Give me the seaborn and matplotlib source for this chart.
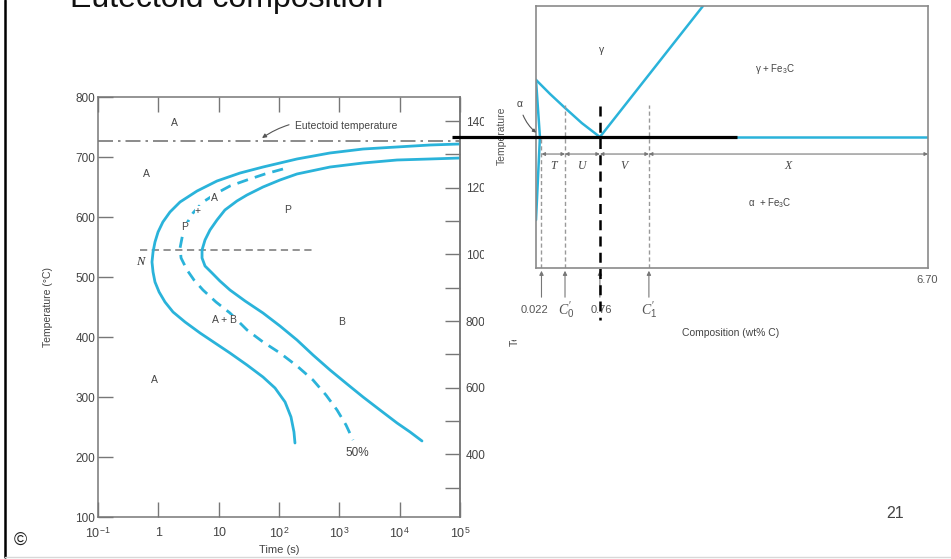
import numpy as np
import pandas as pd
import matplotlib
matplotlib.use("Agg")
import matplotlib.pyplot as plt
import seaborn as sns

sns.set_theme(style="white")
plt.rcParams["font.family"] = ["Liberation Sans", "DejaVu Sans"]
plt.rcParams["mathtext.fontset"] = "custom"
plt.rcParams["mathtext.rm"] = "Liberation Sans"
plt.rcParams["mathtext.it"] = "Liberation Serif:italic"

# ---------------- data (TTT diagram, eutectoid steel) ----------------
start_time = [100000, 31840, 9036, 2472, 701, 198.6, 54.3, 22.6, 9.38, 4.38, 2.29, 1.56, 1.19, 0.99,
              0.88, 0.817, 0.785, 0.817, 0.88, 1.03, 1.29, 1.75, 2.77, 4.91, 8.69, 15.4, 29.5, 54.3,
              85.9, 126, 158, 177, 184]
start_temp = [721.7, 720, 716.7, 713.3, 706.7, 696.7, 683.3, 673.3, 660, 643.3, 625, 608.3, 591.7, 575,
              558.3, 541.7, 525, 508.3, 491.7, 475, 458.3, 441.7, 425, 406.7, 390, 373.3, 353.3, 333.3,
              315, 291.7, 266.7, 241.7, 223.3]
finish_time = [100000, 31840, 9036, 2472, 701, 198.6, 104, 54.3, 29.5, 20.1, 12.7, 9.38, 7.18, 5.94,
               5.30, 5.30, 5.94, 7.76, 10.5, 15.4, 27.4, 54.3, 104, 198.6, 366, 701, 1340, 2472, 4721,
               9036, 14860, 23440]
finish_temp = [698.3, 696.7, 695, 690, 683.3, 671.7, 661.7, 650, 636.7, 626.7, 611.7, 595, 578.3, 561.7,
               545, 531.7, 518.3, 506.7, 493.3, 478.3, 460, 440, 418.3, 395, 370, 345, 321.7, 300, 278.3,
               256.7, 241.7, 226.7]
half_time = [116.5, 58.6, 29.5, 15.4, 9.38, 5.50, 3.76, 2.99, 2.56, 2.29, 2.38, 2.99, 3.90, 5.50, 9.04,
             15.4, 29.5, 54.3, 104, 198.6, 366, 601, 916, 1291, 1687]
half_temp = [680, 671.7, 661.7, 651.7, 640, 625, 606.7, 590, 573.3, 548.3, 531.7, 511.7, 495, 478.3, 458.3,
             440, 411.7, 391.7, 373.3, 351.7, 328.3, 303.3, 278.3, 253.3, 228.3]

eutectoid_T = 727
nose_T = 545
y_ticks_c = [100, 200, 300, 400, 500, 600, 700, 800]
x_ticks = [1e-1, 1, 10, 1e2, 1e3, 1e4, 1e5]
x_ticklabels = ["$10^{-1}$", "1", "10", "$10^{2}$", "$10^{3}$", "$10^{4}$", "$10^{5}$"]
f_major = [400, 600, 800, 1000, 1200, 1400]
f_minor = [300, 500, 700, 900, 1100, 1300]

region_labels = [("A", 1.82, 757), ("A", 0.625, 672), ("P", 141, 612), ("B", 1107, 425), ("A", 0.85, 328)]
inline_labels = [("P", 2.77, 583), ("+", 4.54, 610), ("A", 8.37, 632), ("A + B", 12.7, 428)]

# ---------------- inset phase diagram (schematic units 0-100) ----------------
comp_pos = [1.4, 7.4, 16.3, 28.8]
comp_label_x = [-0.5, 7.6, 16.6, 28.8]
comp_labels = ["0.022", "$C_0^{\\prime}$", "0.76", "$C_1^{\\prime}$"]
comp_label_size = [8, 10, 8, 10]
seg_labels = ["T", "U", "V", "X"]
seg_edges = [1.4, 7.4, 16.3, 28.8, 100]
a3_x = [0, 3.6, 7.4, 11.7, 16.3]
a3_y = [71.8, 66.4, 61.1, 55.3, 50]
acm_x = [16.3, 42.6]
acm_y = [50, 100]
alpha_x = [0, 1.0, 0.0]
alpha_y = [71.8, 50, 18.3]
eut_x = [1.2, 100]
eut_y = [50, 50]

BLUE = "#2ab3da"
TXT = "#444444"

fig = plt.figure(figsize=(9.51, 5.59), dpi=100)
W, H = 951, 559

def fr(x0, y0, x1, y1):
    return [x0 / W, 1 - y1 / H, (x1 - x0) / W, (y1 - y0) / H]

# ---------------- main TTT axes ----------------
ax = fig.add_axes(fr(98, 97, 460, 517))
ax.set_xscale("log")
ax.set_xlim(0.1, 1e5)
ax.set_ylim(100, 800)

sns.lineplot(x=start_time, y=start_temp, sort=False, estimator=None, ax=ax, color=BLUE, lw=2.0)
sns.lineplot(x=finish_time, y=finish_temp, sort=False, estimator=None, ax=ax, color=BLUE, lw=2.0)
sns.lineplot(x=half_time, y=half_temp, sort=False, estimator=None, ax=ax, color=BLUE, lw=2.0)
ax.lines[-1].set_dashes([4, 2.6])
for ln in ax.lines:
    ln.set_solid_joinstyle("round")
    ln.set_dash_joinstyle("round")

ax.axhline(eutectoid_T, color="#777777", lw=1.2, dashes=[9, 3, 1.5, 3])
ax.plot([0.5, 400], [nose_T, nose_T], color="#8a8a8a", lw=1.3, dashes=[4, 2.5], zorder=1)

for s, t, T in region_labels:
    ax.text(t, T, s, ha="center", va="center", fontsize=7.5, color=TXT)
for s, t, T in inline_labels:
    ax.text(t, T, s, ha="center", va="center", fontsize=7.5, color=TXT, zorder=5,
            bbox=dict(boxstyle="square,pad=0.03", fc="white", ec="none"))
ax.text(0.497, 525, "N", ha="center", va="center", fontsize=9, color="#333333",
        family="Liberation Serif", style="italic")
ax.text(1963, 207, "50%", ha="center", va="center", fontsize=8.5, color=TXT)
ax.annotate("Eutectoid temperature", xy=(48, 729), xytext=(184, 752),
            ha="left", va="center", fontsize=7.5, color=TXT,
            arrowprops=dict(arrowstyle="-|>", color="#555555", lw=0.8,
                            mutation_scale=6, connectionstyle="arc3,rad=0.25"))

ax.set_xticks(x_ticks)
ax.set_xticklabels(x_ticklabels)
ax.xaxis.set_minor_locator(matplotlib.ticker.NullLocator())
ax.set_yticks(y_ticks_c)
ax.tick_params(axis="both", direction="in", length=10.5, width=1.0, color="#777777",
               labelsize=8.5, labelcolor=TXT, pad=2, top=True, left=True, bottom=True)
ax.tick_params(axis="x", pad=7, labelsize=9)
ax.tick_params(axis="y", right=False)
for sp in ax.spines.values():
    sp.set_color("#777777")
    sp.set_linewidth(1.1)
ax.set_xlabel("Time (s)", fontsize=8, color=TXT, labelpad=3)
ax.set_ylabel("Temperature (°C)", fontsize=7.5, color=TXT, labelpad=16)

sec = ax.secondary_yaxis("right", functions=(lambda c: c * 9 / 5 + 32, lambda f: (f - 32) * 5 / 9))
sec.set_yticks(f_major)
sec.set_yticks(f_minor, minor=True)
sec.tick_params(axis="y", which="both", direction="in", length=10.5, width=1.0,
                color="#777777", labelsize=8.5, labelcolor=TXT, pad=4)
sec.spines["right"].set_color("#777777")
sec.spines["right"].set_linewidth(1.1)
fig.text(515 / W, 1 - 307 / H, "Temperature (°F)", rotation=90, ha="center", va="center",
         fontsize=7.5, color=TXT, zorder=0.5)

# ---------------- white cover behind inset ----------------
cover = fig.add_axes(fr(484, 0, 951, 340), zorder=1)
cover.set_facecolor("white")
cover.set_xticks([]); cover.set_yticks([])
for sp in cover.spines.values():
    sp.set_visible(False)

# ---------------- inset phase diagram ----------------
ins = fig.add_axes(fr(536, 6, 928, 268), zorder=2)
ins.set_xlim(0, 100)
ins.set_ylim(0, 100)
ins.set_xticks([]); ins.set_yticks([])
ins.set_facecolor("white")
for sp in ins.spines.values():
    sp.set_color("#8a8a8a")
    sp.set_linewidth(1.2)

sns.lineplot(x=a3_x, y=a3_y, sort=False, estimator=None, ax=ins, color=BLUE, lw=1.8)
sns.lineplot(x=acm_x, y=acm_y, sort=False, estimator=None, ax=ins, color=BLUE, lw=1.8)
sns.lineplot(x=alpha_x, y=alpha_y, sort=False, estimator=None, ax=ins, color=BLUE, lw=1.8)
sns.lineplot(x=eut_x, y=eut_y, sort=False, estimator=None, ax=ins, color=BLUE, lw=1.8)

# gray dashed composition lines
ins.plot([comp_pos[0]] * 2, [0, 50], color="#999999", lw=1, dashes=[3, 2])
ins.plot([comp_pos[1]] * 2, [0, 62.2], color="#999999", lw=1, dashes=[3, 2])
ins.plot([comp_pos[3]] * 2, [0, 62.2], color="#999999", lw=1, dashes=[3, 2])

# arrows from below and labels
for xp, lx, lab, fs in zip(comp_pos, comp_label_x, comp_labels, comp_label_size):
    ins.annotate("", xy=(xp, 0), xytext=(xp, -12.2), annotation_clip=False,
                 arrowprops=dict(arrowstyle="-|>", color="#777777", lw=0.8, mutation_scale=6))
    ins.text(lx, -16.2, lab, ha="center", va="center", fontsize=fs, color="#555555", clip_on=False)
ins.text(99.9, -4.6, "6.70", ha="center", va="center", fontsize=8, color="#555555", clip_on=False)
ins.text(49.7, -24.8, "Composition (wt% C)", ha="center", va="center", fontsize=7.5,
         color="#444444", clip_on=False)
ins.text(-8.7, 50.4, "Temperature", rotation=90, ha="center", va="center", fontsize=7.5,
         color="#555555", clip_on=False)

# dimension arrows
for i, lab in enumerate(seg_labels):
    x0, x1 = seg_edges[i], seg_edges[i + 1]
    ins.annotate("", xy=(x1, 43.5), xytext=(x0, 43.5),
                 arrowprops=dict(arrowstyle="<|-|>", color="#777777", lw=0.8, mutation_scale=5,
                                 shrinkA=0, shrinkB=0))
    ins.text((x0 + x1) / 2, 38.9, lab, ha="center", va="center", fontsize=8.5, color="#444444",
             family="Liberation Serif", style="italic")

# phase labels
ins.text(16.8, 83.2, "γ", ha="center", va="center", fontsize=7.5, color="#444444")
ins.text(61, 76, "γ + Fe$_3$C", ha="center", va="center", fontsize=7, color="#444444")
ins.text(59.7, 24.8, "α  + Fe$_3$C", ha="center", va="center", fontsize=7, color="#444444")
ins.annotate("α", xy=(0.6, 51), xytext=(-4.1, 62.5), ha="center", va="center", fontsize=7.5,
             color="#444444", annotation_clip=False,
             arrowprops=dict(arrowstyle="-|>", color="#555555", lw=0.8, mutation_scale=5,
                             connectionstyle="arc3,rad=0.2"))

# black overlay lines (eutectoid temperature and eutectoid composition)
ins.plot([-21.4, 51.3], [50, 50], color="black", lw=2.3, clip_on=False, zorder=10,
         solid_capstyle="butt")
ins.plot([comp_pos[2]] * 2, [61.8, -19.8], color="black", lw=1.8, clip_on=False, zorder=10,
         dashes=[4, 2.5])

# ---------------- slide decorations ----------------
fig.text(70 / W, 1 - 7 / H, "Eutectoid composition", ha="left", va="baseline",
         fontsize=23, color="#111111")
fig.text(895 / W, 1 - 513 / H, "21", ha="center", va="center", fontsize=11.5, color="#444444")
fig.text(20 / W, 1 - 540 / H, "©", ha="center", va="center", fontsize=13, color="#222222")
fig.add_artist(matplotlib.lines.Line2D([5 / W, 5 / W], [1 - 557 / H, 1], color="black", lw=1.8))
fig.add_artist(matplotlib.lines.Line2D([5 / W, 1], [1 - 557 / H, 1 - 557 / H], color="#d8d8d8", lw=1))

fig.savefig("out.png", dpi=100)
